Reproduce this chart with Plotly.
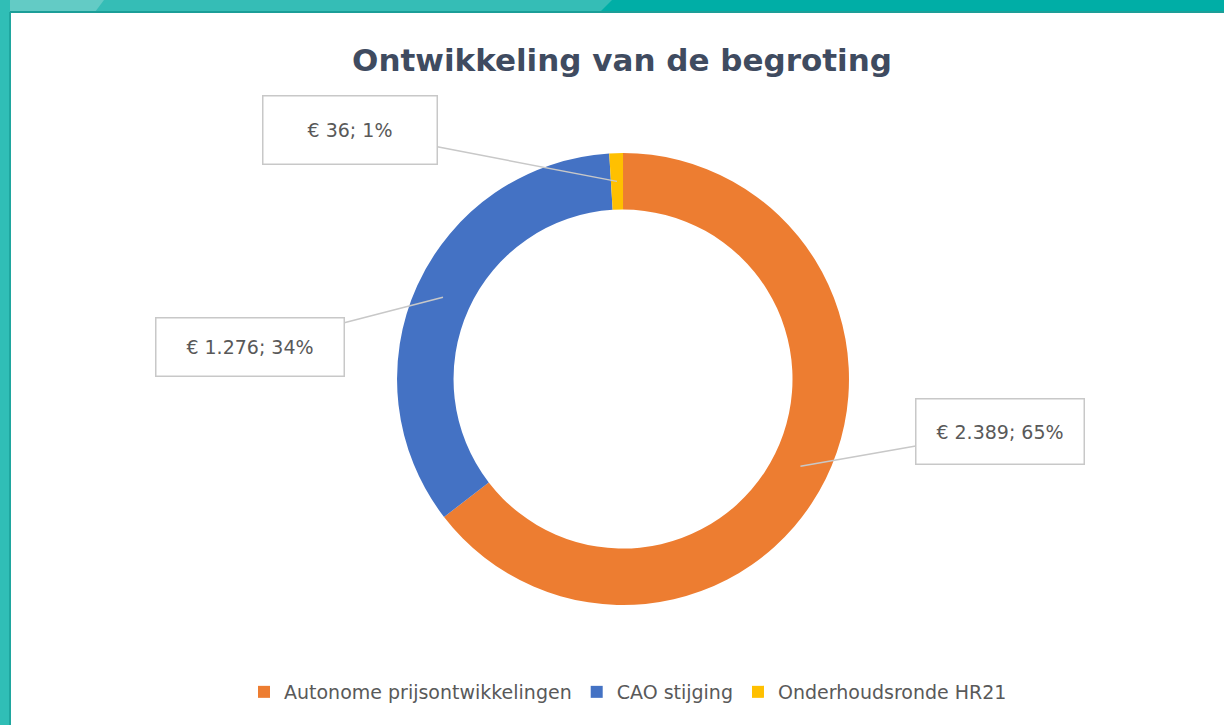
import math
import plotly.graph_objects as go

# ---- data ----
categories = ["Autonome prijsontwikkelingen", "CAO stijging", "Onderhoudsronde HR21"]
values = [2389, 1276, 36]
colors = ["#ED7D31", "#4472C4", "#FFC000"]
title_text = "Ontwikkeling van de begroting"

# ---- layout constants ----
W, H = 1224, 725
dom_x = [0.209, 0.809]
dom_y = [0.1655, 0.7889]
hole = 0.75
FONT = "DejaVu Sans"
# label box centres (pixels) and sizes
label_pos = [(1000, 431), (250, 347), (350, 130)]
label_size = [(170, 67), (190, 60), (176, 70)]


def fmt_eur(v):
    return "€ " + f"{v:,}".replace(",", ".")


total = sum(values)
cx = (dom_x[0] + dom_x[1]) / 2 * W
cy = (1 - (dom_y[0] + dom_y[1]) / 2) * H
R = (dom_y[1] - dom_y[0]) * H / 2
rmid = R * (1 + hole) / 2

fig = go.Figure(
    go.Pie(
        labels=categories,
        values=values,
        marker=dict(colors=colors, line=dict(width=0)),
        hole=hole,
        sort=False,
        direction="clockwise",
        rotation=0,
        textinfo="none",
        domain=dict(x=dom_x, y=dom_y),
        hoverinfo="label+value+percent",
    )
)

annotations = []
cum = 0.0
for i, v in enumerate(values):
    frac = v / total
    mid = cum + frac / 2
    cum += frac
    th = 2 * math.pi * mid
    px = cx + rmid * math.sin(th)
    py = cy - rmid * math.cos(th)
    bx, by = label_pos[i]
    bw, bh = label_size[i]
    annotations.append(
        dict(
            x=px / W,
            y=1 - py / H,
            xref="paper",
            yref="paper",
            text=f"{fmt_eur(v)}; {round(frac * 100)}%",
            showarrow=True,
            arrowhead=0,
            arrowwidth=1.5,
            arrowcolor="#C8C8C8",
            ax=bx - px,
            ay=by - py,
            standoff=0,
            font=dict(family=FONT, size=19, color="#595959"),
            bgcolor="white",
            bordercolor="#C8C8C8",
            borderwidth=1.5,
            borderpad=1,
            width=bw - 5,
            height=bh - 5,
            align="center",
            valign="middle",
        )
    )

shapes = [
    # top teal band
    dict(type="rect", xref="paper", yref="paper", x0=0, x1=1, y0=1 - 12 / H, y1=1,
         fillcolor="#00AEA6", line=dict(width=0), layer="above"),
    dict(type="path", xref="paper", yref="paper",
         path=f"M 0 {1 - 12 / H} L {600 / W} {1 - 12 / H} L {612 / W} 1 L 0 1 Z",
         fillcolor="#35BDB6", line=dict(width=0), layer="above"),
    dict(type="path", xref="paper", yref="paper",
         path=f"M 0 {1 - 12 / H} L {95 / W} {1 - 12 / H} L {104 / W} 1 L 0 1 Z",
         fillcolor="#63CBC5", line=dict(width=0), layer="above"),
    dict(type="line", xref="paper", yref="paper", x0=0, x1=1, y0=1 - 12 / H, y1=1 - 12 / H,
         line=dict(color="#1C9E98", width=2), layer="above"),
    # left teal border
    dict(type="rect", xref="paper", yref="paper", x0=0, x1=10 / W, y0=0, y1=1,
         fillcolor="#30BEB6", line=dict(width=0), layer="above"),
    dict(type="line", xref="paper", yref="paper", x0=10 / W, x1=10 / W, y0=0, y1=1 - 12 / H,
         line=dict(color="#1FA69F", width=2), layer="above"),
]

fig.update_layout(
    width=W,
    height=H,
    margin=dict(l=0, r=0, t=0, b=0),
    paper_bgcolor="white",
    plot_bgcolor="white",
    title=dict(
        text=title_text,
        x=622 / W,
        xanchor="center",
        y=1 - 60 / H,
        yanchor="middle",
        font=dict(family=FONT, size=31, color="#3F4B60", weight="bold"),
    ),
    showlegend=True,
    legend=dict(
        orientation="h",
        x=628 / W,
        xanchor="center",
        y=1 - 692 / H,
        yanchor="middle",
        font=dict(family=FONT, size=19, color="#595959"),
        itemwidth=30,
        traceorder="normal",
    ),
    annotations=annotations,
    shapes=shapes,
)

fig.write_html(
    "out.html",
    config={"displayModeBar": False},
    post_script="document.body.style.margin='0';document.body.style.overflow='hidden';",
)
